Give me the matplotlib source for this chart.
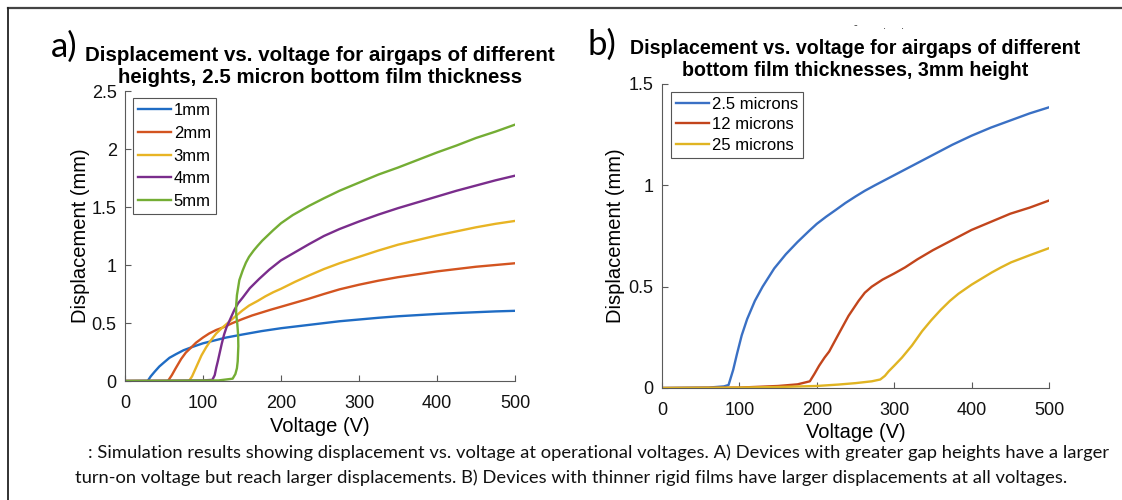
import matplotlib
matplotlib.use('Agg')
import matplotlib.pyplot as plt
from matplotlib.lines import Line2D

# panel a: airgap heights, 2.5 micron film
v_1mm = [0, 29, 33, 38, 44, 50, 57, 65, 75, 87, 100, 115, 130, 150, 175, 200, 225, 250, 275, 300, 325, 350, 375, 400, 425, 450, 475, 500]
d_1mm = [0, 0, 0.04, 0.08, 0.125, 0.16, 0.20, 0.23, 0.265, 0.295, 0.325, 0.35, 0.375, 0.40, 0.43, 0.455, 0.475, 0.495, 0.515, 0.53, 0.545, 0.558, 0.568, 0.578, 0.586, 0.593, 0.60, 0.605]

v_2mm = [0, 55, 60, 65, 72, 78, 85, 91, 100, 108, 117, 125, 138, 151, 163, 175, 187, 200, 218, 236, 255, 275, 300, 325, 350, 375, 400, 425, 450, 475, 500]
d_2mm = [0, 0, 0.05, 0.11, 0.19, 0.245, 0.29, 0.33, 0.375, 0.41, 0.44, 0.46, 0.50, 0.535, 0.565, 0.59, 0.615, 0.64, 0.675, 0.71, 0.75, 0.79, 0.83, 0.865, 0.895, 0.92, 0.945, 0.965, 0.985, 1.0, 1.015]

v_3mm = [0, 82, 86, 90, 93, 98, 104, 110, 117, 124, 130, 142, 150, 159, 170, 180, 190, 200, 218, 236, 255, 275, 300, 325, 350, 375, 400, 425, 450, 475, 500]
d_3mm = [0, 0, 0.04, 0.10, 0.145, 0.22, 0.29, 0.35, 0.41, 0.455, 0.49, 0.56, 0.605, 0.65, 0.69, 0.73, 0.765, 0.795, 0.855, 0.91, 0.965, 1.015, 1.07, 1.125, 1.175, 1.215, 1.255, 1.29, 1.325, 1.355, 1.38]

v_4mm = [0, 100, 112, 115, 117, 119, 121, 124, 127, 130, 134, 140, 145, 151, 160, 172, 185, 200, 218, 236, 255, 275, 300, 325, 350, 375, 400, 425, 450, 475, 500]
d_4mm = [0, 0.005, 0.01, 0.05, 0.115, 0.17, 0.23, 0.32, 0.40, 0.46, 0.52, 0.61, 0.67, 0.72, 0.80, 0.88, 0.96, 1.04, 1.11, 1.18, 1.25, 1.31, 1.375, 1.435, 1.49, 1.54, 1.59, 1.64, 1.685, 1.73, 1.77]

v_5mm = [0, 120, 138, 141.5, 143.5, 144.5, 145.3, 145.0, 144.0, 142.5, 142.5, 143.5, 146.6, 151, 155, 159, 165, 170, 176, 183, 190, 200, 215, 236, 255, 275, 300, 325, 350, 375, 400, 425, 450, 475, 500]
d_5mm = [0, 0.005, 0.02, 0.06, 0.11, 0.17, 0.30, 0.40, 0.49, 0.58, 0.65, 0.74, 0.87, 0.955, 1.02, 1.07, 1.125, 1.165, 1.21, 1.255, 1.30, 1.36, 1.43, 1.51, 1.575, 1.64, 1.71, 1.78, 1.84, 1.905, 1.97, 2.03, 2.095, 2.15, 2.21]

heights = ['1mm', '2mm', '3mm', '4mm', '5mm']
colors_a = ['#1f6cc4', '#d35420', '#e8b424', '#7a2d8c', '#74ad34']

# panel b: film thicknesses, 3mm height
v_2p5 = [0, 60, 80, 86, 92, 97, 103, 110, 120, 130, 145, 160, 175, 190, 200, 212, 225, 237, 250, 262, 275, 300, 325, 350, 375, 400, 425, 450, 475, 500]
d_2p5 = [0, 0.002, 0.008, 0.015, 0.09, 0.17, 0.26, 0.34, 0.43, 0.50, 0.59, 0.66, 0.72, 0.775, 0.81, 0.845, 0.88, 0.913, 0.945, 0.973, 1.0, 1.05, 1.10, 1.15, 1.20, 1.245, 1.285, 1.32, 1.355, 1.385]

v_12 = [0, 100, 150, 175, 191, 197, 203, 210, 216, 228, 241, 254, 262, 271, 285, 300, 314, 330, 350, 375, 400, 425, 450, 475, 500]
d_12 = [0, 0.002, 0.01, 0.018, 0.033, 0.07, 0.11, 0.15, 0.18, 0.265, 0.356, 0.43, 0.47, 0.50, 0.535, 0.565, 0.595, 0.635, 0.68, 0.73, 0.78, 0.82, 0.86, 0.89, 0.925]

v_25 = [0, 100, 150, 200, 228, 250, 271, 282, 288, 293, 300, 310, 323, 336, 348, 360, 372, 383, 400, 413, 426, 438, 451, 475, 500]
d_25 = [0, 0.002, 0.005, 0.01, 0.017, 0.024, 0.033, 0.042, 0.06, 0.083, 0.11, 0.15, 0.21, 0.28, 0.335, 0.385, 0.43, 0.465, 0.51, 0.54, 0.57, 0.595, 0.62, 0.655, 0.69]

films = ['2.5 microns', '12 microns', '25 microns']
colors_b = ['#3a70c4', '#c2451c', '#e0b422']

x_ticks = [0, 100, 200, 300, 400, 500]
y_ticks_a = [0, 0.5, 1, 1.5, 2, 2.5]
y_ticks_b = [0, 0.5, 1, 1.5]
y_labels_a = ['0', '0.5', '1', '1.5', '2', '2.5']
y_labels_b = ['0', '0.5', '1', '1.5']

caption_1 = (': Simulation results showing displacement vs. voltage at operational voltages. '
             'A) Devices with greater gap heights have a larger')
caption_2 = ('turn-on voltage but reach larger displacements. '
             'B) Devices with thinner rigid films have larger displacements at all voltages.')

plt.rcParams['font.family'] = ['Liberation Sans', 'DejaVu Sans']

W, H = 1122, 500
fig = plt.figure(figsize=(W / 100, H / 100), dpi=100)


def px_axes(x0, x1, y_top, y_bot):
    return fig.add_axes([x0 / W, 1 - y_bot / H, (x1 - x0) / W, (y_bot - y_top) / H])


def style(ax, yticks, ylabels, ymax):
    ax.set_xlim(0, 500)
    ax.set_ylim(0, ymax)
    ax.set_xticks(x_ticks)
    ax.set_xticklabels([str(t) for t in x_ticks])
    ax.set_yticks(yticks)
    ax.set_yticklabels(ylabels)
    for s in ['top', 'right']:
        ax.spines[s].set_visible(False)
    for s in ['left', 'bottom']:
        ax.spines[s].set_color('#5a5a5a')
        ax.spines[s].set_linewidth(0.8)
    ax.tick_params(direction='in', length=4, width=0.8, color='#5a5a5a',
                   labelsize=13, labelcolor='#111111')
    ax.tick_params(axis='y', pad=6)
    ax.tick_params(axis='x', pad=10)


def legend(ax, anchor, spacing):
    leg = ax.legend(loc='upper left', bbox_to_anchor=anchor, fontsize=12,
                    handlelength=2.0, handletextpad=0.15, labelspacing=spacing,
                    borderpad=0.3, borderaxespad=0.0, fancybox=False, framealpha=1)
    leg.get_frame().set_edgecolor('#555555')
    leg.get_frame().set_linewidth(0.8)


ax1 = px_axes(125, 515, 91, 381)
series_a = [(v_1mm, d_1mm), (v_2mm, d_2mm), (v_3mm, d_3mm), (v_4mm, d_4mm), (v_5mm, d_5mm)]
for (v, d), name, c in zip(series_a, heights, colors_a):
    ax1.plot(v, d, color=c, lw=1.7, label=name)
style(ax1, y_ticks_a, y_labels_a, 2.5)
ax1.set_title('Displacement vs. voltage for airgaps of different\nheights, 2.5 micron bottom film thickness',
              fontsize=14.8, fontweight='bold', linespacing=1.15, pad=6)
ax1.set_xlabel('Voltage (V)', fontsize=14.5)
ax1.set_ylabel('Displacement (mm)', fontsize=14.5)
ax1.xaxis.set_label_coords(0.5, -0.125)
ax1.yaxis.set_label_coords(-0.09, 0.5)
legend(ax1, (0.02, 0.975), 0.46)

ax2 = px_axes(662, 1049, 84, 388)
series_b = [(v_2p5, d_2p5), (v_12, d_12), (v_25, d_25)]
for (v, d), name, c in zip(series_b, films, colors_b):
    ax2.plot(v, d, color=c, lw=1.7, label=name)
style(ax2, y_ticks_b, y_labels_b, 1.5)
ax2.set_title('Displacement vs. voltage for airgaps of different\nbottom film thicknesses, 3mm height',
              fontsize=14.1, fontweight='bold', linespacing=1.15, pad=6)
ax2.set_xlabel('Voltage (V)', fontsize=14.5)
ax2.set_ylabel('Displacement (mm)', fontsize=14.5)
ax2.xaxis.set_label_coords(0.5, -0.115)
ax2.yaxis.set_label_coords(-0.095, 0.5)
legend(ax2, (0.023, 0.975), 0.33)

# panel letters
fig.text(51 / W, 1 - 47 / H, 'a)', fontsize=25, family='Lato', va='center', ha='left')
fig.text(588 / W, 1 - 45 / H, 'b)', fontsize=25, family='Lato', va='center', ha='left')

# leftover marks above panel b
fig.text(855 / W, 1 - 25 / H, '-', fontsize=8, ha='center', va='center', color='#333333')
fig.text(885 / W, 1 - 26 / H, '.', fontsize=8, ha='center', va='center', color='#333333')
fig.text(902 / W, 1 - 26 / H, '.', fontsize=8, ha='center', va='center', color='#333333')

# caption
t1 = fig.text(88 / W, 1 - 453 / H, caption_1, fontsize=12, family='Lato', va='center', ha='left', color='#111111')
t2 = fig.text(75 / W, 1 - 478 / H, caption_2, fontsize=12, family='Lato', va='center', ha='left', color='#111111')
fig.canvas.draw()
r = fig.canvas.get_renderer()
w1 = t1.get_window_extent(r).width
t1.set_fontsize(12 * 1017 / w1)
t2.set_fontsize(12 * 1017 / w1)

# frame lines of the page
fig.add_artist(Line2D([8 / W, 1], [1 - 8 / H, 1 - 8 / H], color='#444444', lw=1.6))
fig.add_artist(Line2D([8 / W, 8 / W], [1 - 8 / H, 0], color='#222222', lw=1.3))

fig.savefig('out.png', dpi=100)
